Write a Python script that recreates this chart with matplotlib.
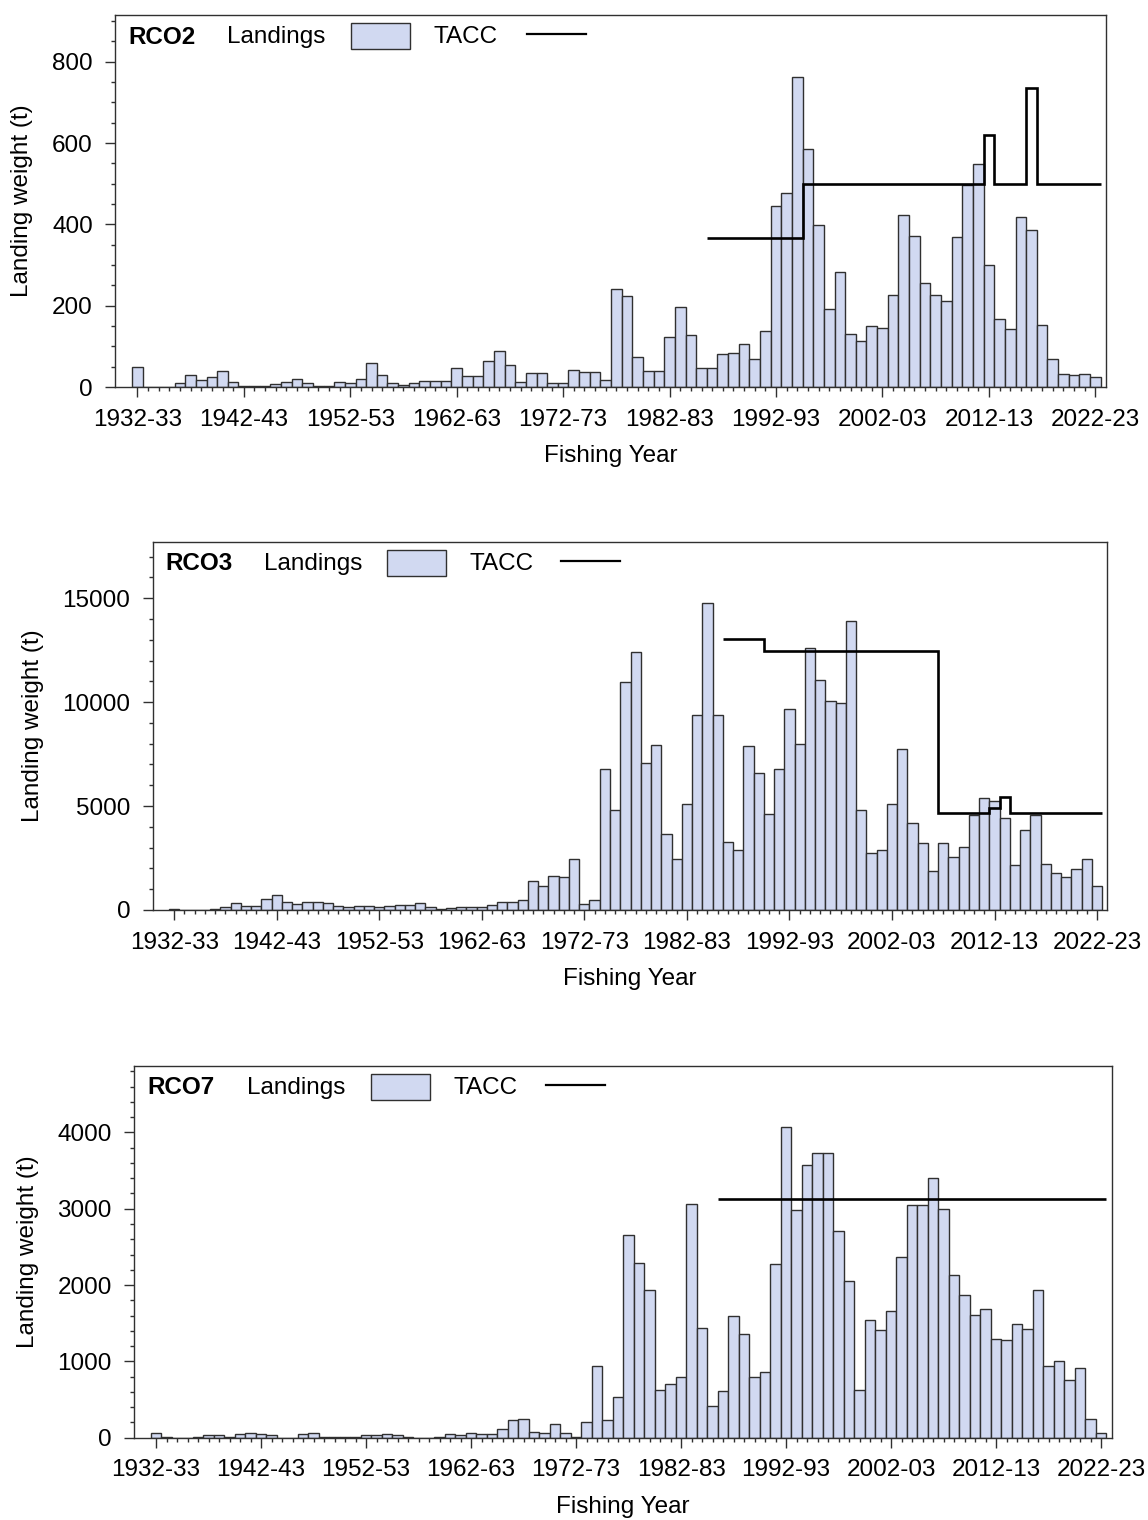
import numpy as np
import matplotlib
matplotlib.use('Agg')
import matplotlib.pyplot as plt
from matplotlib.patches import Rectangle
from matplotlib.lines import Line2D

plt.rcParams['font.family'] = ['Liberation Sans', 'DejaVu Sans']

# fishing years 1932-33 .. 2022-23
YEARS = [f"{y}-{str(y + 1)[-2:]}" for y in range(1932, 2023)]

RCO2_LANDINGS = [49, 0, 0, 0, 11, 29, 18, 25, 40, 12,
                 3, 3, 3, 7, 12, 19, 10, 3, 3, 12,
                 9, 19, 59, 29, 9, 6, 9, 15, 15, 15,
                 47, 27, 27, 65, 89, 53, 12, 34, 34, 9,
                 9, 43, 37, 37, 18, 242, 223, 75, 40, 40,
                 124, 198, 127, 47, 47, 80, 84, 106, 68, 137,
                 444, 478, 763, 585, 398, 193, 283, 130, 112, 149,
                 146, 226, 424, 371, 257, 226, 211, 368, 498, 548,
                 301, 168, 143, 419, 385, 152, 68, 31, 29, 31, 25]

RCO3_LANDINGS = [50, 0, 0, 0, 50, 130, 320, 176, 176, 545,
                 737, 369, 288, 400, 400, 320, 176, 128, 176, 176,
                 128, 176, 240, 240, 320, 160, 64, 112, 160, 160,
                 160, 224, 369, 369, 480, 1378, 1138, 1635, 1571, 2469,
                 289, 481, 6781, 4809, 10981, 12423, 7085, 7935, 3671, 2469,
                 5098, 9362, 14764, 9362, 3286, 2869, 7871, 6604, 4617, 6781,
                 9666, 7983, 12600, 11045, 10067, 9955, 13914, 4809, 2757, 2885,
                 5098, 7727, 4200, 3238, 1860, 3238, 2533, 3014, 4553, 5386,
                 5258, 4440, 2148, 3847, 4553, 2212, 1795, 1571, 1956, 2469, 1154]

RCO7_LANDINGS = [66, 13, 0, 0, 13, 31, 31, 13, 48, 66,
                 48, 31, 0, 0, 48, 66, 13, 13, 13, 13,
                 31, 31, 48, 31, 13, 0, 0, 13, 48, 31,
                 66, 48, 48, 114, 227, 245, 79, 66, 179, 66,
                 13, 210, 939, 227, 528, 2660, 2293, 1935, 624, 707,
                 795, 3057, 1437, 415, 611, 1598, 1354, 795, 856, 2280,
                 4066, 2978, 3568, 3734, 3734, 2708, 2048, 629, 1537, 1406,
                 1655, 2367, 3053, 3053, 3402, 2996, 2135, 1865, 1603, 1686,
                 1288, 1275, 1485, 1419, 1935, 943, 1009, 760, 908, 245, 66]

# TACC from 1986-87 to 2022-23
TACC_START = '1986-87'
RCO2_TACC = [367] * 9 + [500] * 17 + [621] + [500] * 3 + [736] + [500] * 6
RCO3_TACC = [13033] * 4 + [12455] * 17 + [4665] * 5 + [4921, 5434] + [4665] * 9
RCO7_TACC = [3127] * 37

W, H = 1148, 1520
BAR_FILL = '#D1D9F1'
EDGE = '#303030'

fig = plt.figure(figsize=(W / 100, H / 100), dpi=100)

panels = [
    # name, landings, tacc, ymax, major, minor, axes px (l, t, r, b), ylabel x, xlabel y, legend px
    ('RCO2', RCO2_LANDINGS, RCO2_TACC, 915, 200, 50, (115, 15, 1106, 387), 22, 456,
     (128, 37, 227, 351, 434, 527)),
    ('RCO3', RCO3_LANDINGS, RCO3_TACC, 17700, 5000, 1000, (152.7, 542, 1107.3, 910), 33, 979,
     (165, 564, 264, 387, 470, 561)),
    ('RCO7', RCO7_LANDINGS, RCO7_TACC, 4870, 1000, 200, (134, 1066, 1111.7, 1437.7), 28, 1507,
     (147, 1088, 247, 371, 453, 546)),
]

x = np.arange(len(YEARS))
t0 = YEARS.index(TACC_START)

for name, land, tacc, ymax, major, minor, (l, t, r, b), ylx, xly, leg in panels:
    ax = fig.add_axes([l / W, 1 - b / H, (r - l) / W, (b - t) / H])
    ax.bar(x, land, width=1.0, color=BAR_FILL, edgecolor=EDGE, linewidth=1.0, zorder=2)
    edges = np.arange(t0, t0 + len(tacc) + 1) - 0.5
    ax.stairs(tacc, edges, baseline=None, color='black', linewidth=1.9, zorder=3)

    ax.set_xlim(-2.1, 91.0)
    ax.set_ylim(0, ymax)
    ax.set_xticks(x[::10])
    ax.set_xticklabels(YEARS[::10])
    ax.set_xticks(x, minor=True)
    ax.set_yticks(np.arange(0, ymax, major))
    ax.set_yticks(np.arange(0, ymax, minor), minor=True)
    ax.tick_params(which='both', direction='out', width=1.0, color=EDGE, labelsize=17.5)
    ax.tick_params(which='major', length=7)
    ax.tick_params(which='minor', length=3)
    ax.tick_params(axis='x', pad=8.5)
    ax.tick_params(axis='y', pad=9)
    for sp in ax.spines.values():
        sp.set_linewidth(1.0)
        sp.set_color(EDGE)

    ax.set_xlabel('Fishing Year', fontsize=17.5)
    ax.set_ylabel('Landing weight (t)', fontsize=17.5)
    ax.xaxis.label.set_va('center')
    ax.yaxis.label.set_va('center')
    ax.xaxis.set_label_coords(0.5, (b - xly) / (b - t))
    ax.yaxis.set_label_coords((ylx - l) / (r - l), 0.5)

    # legend row along the top of the frame
    nx, ny, lx, px, tx, linex = leg
    fig.text(nx / W, 1 - ny / H, name, fontsize=17.5, fontweight='bold', va='center', ha='left')
    fig.text(lx / W, 1 - ny / H, 'Landings', fontsize=17.5, va='center', ha='left')
    fig.patches.append(Rectangle((px / W, 1 - (ny + 12) / H), 59 / W, 26 / H,
                                 transform=fig.transFigure, facecolor=BAR_FILL,
                                 edgecolor=EDGE, linewidth=1.0))
    fig.text(tx / W, 1 - ny / H, 'TACC', fontsize=17.5, va='center', ha='left')
    fig.lines.append(Line2D([linex / W, (linex + 59) / W], [1 - (ny - 3) / H, 1 - (ny - 3) / H],
                            transform=fig.transFigure, color='black', linewidth=1.6))

fig.savefig('out.png', dpi=100)
